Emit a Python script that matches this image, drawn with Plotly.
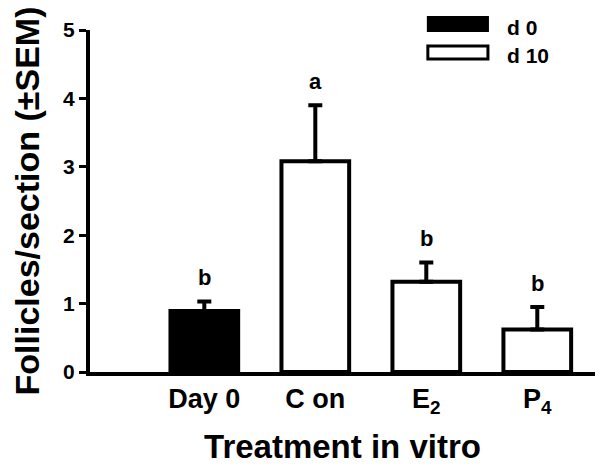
import plotly.graph_objects as go

# data
groups = ['Day 0', 'C on', 'E<sub>2</sub>', 'P<sub>4</sub>']
means = [0.89, 3.08, 1.32, 0.62]
sem = [0.14, 0.82, 0.28, 0.33]
letters = ['b', 'a', 'b', 'b']
fills = ['black', 'white', 'white', 'white']

FONT = 'Arial, Liberation Sans, sans-serif'
xpos = list(range(len(groups)))

fig = go.Figure()

fig.add_trace(go.Bar(
    x=xpos,
    y=means,
    width=0.61,
    marker=dict(color=fills, line=dict(color='black', width=4)),
    error_y=dict(type='data', array=sem, arrayminus=[0] * len(sem),
                 symmetric=False, color='black', thickness=4, width=7),
    showlegend=False,
))

# significance letters above the error bars
for x, m, s, t in zip(xpos, means, sem, letters):
    fig.add_annotation(x=x, y=m + s, text=t, showarrow=False, yshift=24,
                       font=dict(family=FONT, size=22, color='black', weight='bold'))

# legend drawn as wide boxes like the original
fig.add_shape(type='rect', xref='paper', yref='paper', x0=0.669, x1=0.788, y0=0.997, y1=1.038,
              fillcolor='black', line=dict(color='black', width=2))
fig.add_shape(type='rect', xref='paper', yref='paper', x0=0.669, x1=0.788, y0=0.915, y1=0.953,
              fillcolor='white', line=dict(color='black', width=3))
fig.add_annotation(xref='paper', yref='paper', x=0.822, y=1.008, text='d 0', showarrow=False,
                   xanchor='left', yanchor='middle',
                   font=dict(family=FONT, size=21, color='black', weight='bold'))
fig.add_annotation(xref='paper', yref='paper', x=0.822, y=0.925, text='d 10', showarrow=False,
                   xanchor='left', yanchor='middle',
                   font=dict(family=FONT, size=21, color='black', weight='bold'))

# page body adds an 8px margin, so the figure is a bit smaller than the window
fig.update_layout(
    width=588, height=457,
    margin=dict(l=82, r=1, t=22, b=93),
    plot_bgcolor='white', paper_bgcolor='white',
    font=dict(family=FONT, color='black'),
    bargap=0.4,
)

fig.update_xaxes(
    range=[-1.03, 3.52],
    tickmode='array', tickvals=xpos, ticktext=groups,
    showline=True, linewidth=4, linecolor='black',
    ticks='', showgrid=False, zeroline=False,
    tickfont=dict(family=FONT, size=27, weight='bold'),
    title=dict(text='Treatment in vitro', standoff=22,
               font=dict(family=FONT, size=33, weight='bold')),
)

fig.update_yaxes(
    range=[0, 5], tickvals=[0, 1, 2, 3, 4, 5],
    showline=True, linewidth=4, linecolor='black',
    ticks='outside', ticklen=7, tickwidth=3, tickcolor='black',
    showgrid=False, zeroline=False,
    tickfont=dict(family=FONT, size=21, weight='bold'),
    title=dict(text='Follicles/section (±SEM)', standoff=19,
               font=dict(family=FONT, size=34, weight='bold')),
)

fig.write_html('out.html')
